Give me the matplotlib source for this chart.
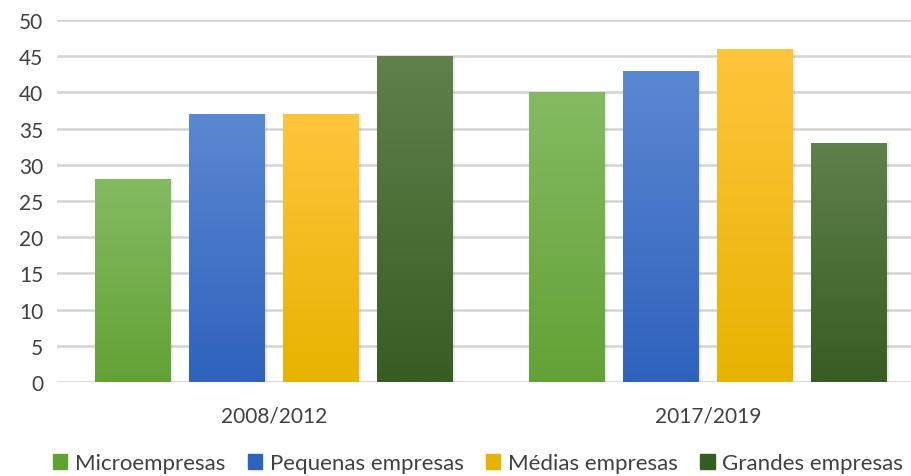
import matplotlib
matplotlib.use('Agg')
import matplotlib.pyplot as plt
import numpy as np
from matplotlib.colors import LinearSegmentedColormap

plt.rcParams['font.family'] = ['Lato', 'DejaVu Sans']

periodos = ['2008/2012', '2017/2019']
series = ['Microempresas', 'Pequenas empresas', 'Médias empresas', 'Grandes empresas']
micro = [28, 40]
pequenas = [37, 43]
medias = [37, 46]
grandes = [45, 33]
valores = [micro, pequenas, medias, grandes]

# (cor de cima, cor de baixo) para o degradê
cores = [('#84bb62', '#62a235'),
         ('#5b88d2', '#2f62bd'),
         ('#ffc53d', '#e8b300'),
         ('#60804c', '#375d22')]

fig = plt.figure(figsize=(9.12, 4.77), dpi=100)
ax = fig.add_axes([57/912, 1 - 383/477, (925 - 57)/912, (383 - 21)/477])

x = np.arange(len(periodos))
larg = 0.175
passo = 0.2166
grad = np.linspace(1, 0, 256).reshape(-1, 1)

handles = []
for i, (nome, vals, (c_top, c_bot)) in enumerate(zip(series, valores, cores)):
    pos = x + (i - 1.5) * passo
    bars = ax.bar(pos, vals, larg, color=c_bot, zorder=2, label=nome)
    cmap = LinearSegmentedColormap.from_list(nome, [c_bot, c_top])
    for b in bars:
        x0, y0 = b.get_x(), b.get_y()
        w, h = b.get_width(), b.get_height()
        # sombra leve
        ax.bar(x0 + w / 2 + 0.005, h, w, bottom=y0, color='#000000', alpha=0.07, zorder=1.5)
        im = ax.imshow(grad, extent=[x0, x0 + w, y0, y0 + h], aspect='auto',
                       cmap=cmap, zorder=3, origin='upper')
        im.set_clip_path(b)
    handles.append(plt.Rectangle((0, 0), 1, 1, color=c_bot))

ax.set_xlim(-0.5, 1.5)
ax.set_ylim(0, 50)
ax.set_yticks(range(0, 51, 5))
ax.set_xticks(x)
ax.set_xticklabels(periodos)
ax.yaxis.grid(True, color='#d4d4d4', linewidth=1.8, zorder=0)
ax.set_axisbelow(True)
for s in ax.spines.values():
    s.set_visible(False)
ax.tick_params(axis='both', length=0, labelsize=15, colors='#404040')
ax.tick_params(axis='y', pad=10)
ax.tick_params(axis='x', pad=17)

fig.legend(handles, series, loc='center', bbox_to_anchor=(478/912, 1 - 464/477),
           ncol=4, frameon=False, fontsize=16, handlelength=0.65, handleheight=0.65,
           handletextpad=0.35, columnspacing=1.0, labelcolor='#404040')

fig.savefig('out.png', dpi=100)
